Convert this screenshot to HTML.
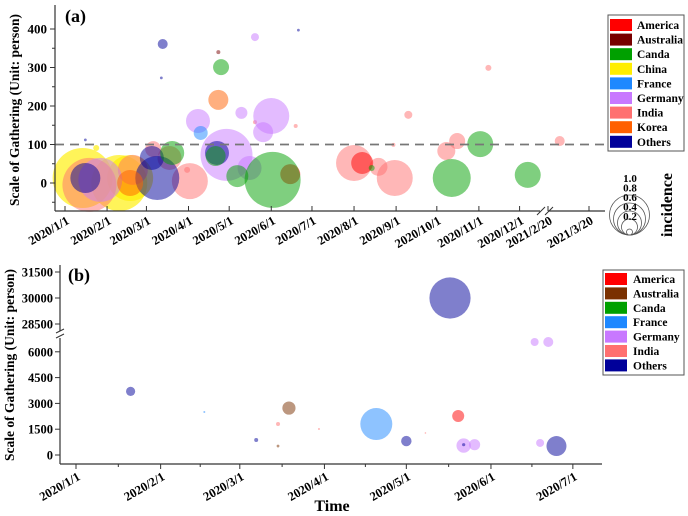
<!DOCTYPE html>
<html><head><meta charset="utf-8">
<style>
html,body{margin:0;padding:0;background:#fff;}
svg{display:block;font-family:"Liberation Serif",serif;font-weight:bold;}
</style></head>
<body>
<svg id="chart" width="688" height="516" viewBox="0 0 688 516" xmlns="http://www.w3.org/2000/svg">
<g id="pa"></g>
<g id="pb"></g>
</svg>
<script>
// ---------- Panel (a) data ----------
const aCountries = ["America","Australia","Canda","China","France","Germany","India","Korea","Others"];
const aColors = ["#ff0000","#780000","#00a000","#ffee00","#1e88ff","#c878ff","#ff7070","#ff6000","#00009a"];
const aDay   = [13,40,48,23, 18,50,65,77,90,92,140,170,213,231,243,242,253,281,289,312,424, 166,219, 26,98,119,136,130,140,146,152, 15,15,64,68,72,71,112,172, 79,111,115,127,153,226,285,306,341, 100, 48,113, 113];
const aValue = [13,0,13,91, -5,34,88,65,34,5,158,148,52,42,13,99,177,83,109,299,109, 23,52, 8,161,73,39,182,379,132,174, 13,112,65,13,361,273,78,397, 78,70,301,18,8,39,13,101,21, 130, 0,216, 340];
const aInc   = [1.5,1.4,1.15,0.15, 1.35,0.75,0.4,0.6,0.15,0.9,0.1,0.1,0.9,0.45,0.9,0.1,0.2,0.45,0.4,0.15,0.25, 0.5,0.55, 1.1,0.6,1.3,0.6,0.3,0.2,0.5,0.9, 0.75,0.07,0.6,1.1,0.25,0.07,0.6,0.07, 0.6,0.5,0.4,0.55,1.4,0.15,0.95,0.65,0.65, 0.35, 0.65,0.5, 0.1];
const aGroup = [3,3,3,3, 6,6,6,6,6,6,6,6,6,6,6,6,6,6,6,6,6, 0,0, 5,5,5,5,5,5,5,5, 8,8,8,8,8,8,8,8, 2,2,2,2,2,2,2,2,2, 4, 7,7, 1];
const aYTicks = [0,100,200,300,400];
const aXTickLabels = ["2020/1/1","2020/2/1","2020/3/1","2020/4/1","2020/5/1","2020/6/1","2020/7/1","2020/8/1","2020/9/1","2020/10/1","2020/11/1","2020/12/1","2021/2/20","2021/3/20"];
const aXTickDays = [0,31,60,91,121,152,182,213,244,274,305,335,416,444];
const incLegend = [1.0,0.8,0.6,0.4,0.2];

// ---------- Panel (b) data ----------
const bCountries = ["America","Australia","Canda","France","Germany","India","Others"];
const bColors = ["#ff0000","#7a3000","#00a000","#1e88ff","#c878ff","#ff7070","#00009a"];
const bDay   = [20,47,66,74,74,78,89,110,121,128,137,140,142,142,146,168,173,170,176];
const bValue = [3700,2500,870,1800,520,2730,1510,1800,810,1280,30000,2270,550,600,600,6570,6570,700,520];
const bInc   = [0.23,0.05,0.1,0.1,0.07,0.33,0.05,0.8,0.26,0.04,1.03,0.3,0.36,0.08,0.28,0.2,0.25,0.2,0.5];
const bGroup = [6,3,6,5,1,1,5,3,6,5,6,0,4,6,4,4,4,4,6];
const bYTicksLow = [0,1500,3000,4500,6000];
const bYTicksHigh = [28500,30000,31500];
const bXTickLabels = ["2020/1/1","2020/2/1","2020/3/1","2020/4/1","2020/5/1","2020/6/1","2020/7/1"];
const bXTickDays = [0,31,60,91,121,152,182];

const NS="http://www.w3.org/2000/svg";
function mk(parent,tag,attrs,text){const e=document.createElementNS(NS,tag);for(const k in attrs)e.setAttribute(k,attrs[k]);if(text!==undefined)e.textContent=text;parent.appendChild(e);return e;}

// ===== Panel A =====
const pa=document.getElementById('pa');
function axA(d){return d<=380?65+d*1.357:548+(d-416)*1.464;}
function ayA(v){return 183-v*0.385;}
function rA(i){return 20*i;}
for(let i=0;i<aDay.length;i++){
  const c=mk(pa,'circle',{cx:axA(aDay[i]),cy:ayA(aValue[i]),r:rA(aInc[i]),fill:aColors[aGroup[i]],'fill-opacity':aGroup[i]===3?0.65:0.5});
  
  
}
let dl=mk(pa,'line',{x1:55,x2:605,y1:ayA(100),y2:ayA(100),stroke:'#777','stroke-width':1.8,'stroke-dasharray':'9,6'});

let ya=mk(pa,'line',{x1:55,x2:55,y1:5,y2:211,stroke:'#333','stroke-width':1.2});

let xa1=mk(pa,'line',{x1:55,x2:540,y1:211,y2:211,stroke:'#333','stroke-width':1.2});

let xa2=mk(pa,'line',{x1:548,x2:605,y1:211,y2:211,stroke:'#333','stroke-width':1.2});

mk(pa,'path',{d:'M537 215 L545 207 M545 215 L553 207',stroke:'#333','stroke-width':1,fill:'none'});
for(const v of aYTicks){
  mk(pa,'line',{x1:50,x2:55,y1:ayA(v),y2:ayA(v),stroke:'#333'});
  const t=mk(pa,'text',{x:47,y:ayA(v)+4.5,'text-anchor':'end','font-size':13},v);
  
}
for(let v=-50;v<=400;v+=100){mk(pa,'line',{x1:52,x2:55,y1:ayA(v),y2:ayA(v),stroke:'#333'});}
for(let i=0;i<aXTickDays.length;i++){
  const x=axA(aXTickDays[i]);
  mk(pa,'line',{x1:x,x2:x,y1:211,y2:206,stroke:'#333'});
  const t=mk(pa,'text',{x:x+5,y:223,'text-anchor':'end','font-size':12.5,transform:`rotate(-30 ${x+5} 223)`},aXTickLabels[i]);
  
}
let ta=mk(pa,'text',{x:65,y:22,'font-size':18},'(a)');
let yta=mk(pa,'text',{x:19,y:110,'text-anchor':'middle','font-size':13.5,transform:'rotate(-90 19 110)'},'Scale of Gathering (Unit: person)');

let lga=mk(pa,'rect',{x:608,y:15,width:76,height:136,fill:'#fff',stroke:'#555','stroke-width':1});

for(let i=0;i<aCountries.length;i++){
  const y=19+i*14.6;
  const s=mk(pa,'rect',{x:610,y:y,width:22,height:12,fill:aColors[i]});
  
  const t=mk(pa,'text',{x:637,y:y+10,'font-size':11.5},aCountries[i]);
  
}
for(const v of incLegend){
  const r=20*v+(v===0.2?-1:0);
  mk(pa,'circle',{cx:629.5,cy:235-r,r:r,fill:'none',stroke:'#555','stroke-width':0.8});
}
incLegend.forEach((v,i)=>{const t=mk(pa,'text',{x:630,y:182+i*9.5,'text-anchor':'middle','font-size':11},v.toFixed(1));});
let inc=mk(pa,'text',{x:672,y:205,'text-anchor':'middle','font-size':16,transform:'rotate(-90 672 205)'},'incidence');


// ===== Panel B =====
const pb=document.getElementById('pb');
function axB(d){return 76+d*2.73;}
function ayB(v){return v<20000?455-v/1500*25.8:324-(v-28500)/1500*26;}
function rB(i){return 20*i;}
let yb=mk(pb,'path',{d:'M60 265 L60 331 M60 338 L60 464',stroke:'#333','stroke-width':1.2,fill:'none'});

mk(pb,'path',{d:'M56 333 L64 329 M56 338 L64 334',stroke:'#333','stroke-width':1,fill:'none'});
let xb=mk(pb,'line',{x1:60,x2:602,y1:464,y2:464,stroke:'#333','stroke-width':1.2});

for(const v of bYTicksLow.concat(bYTicksHigh)){
  mk(pb,'line',{x1:55,x2:60,y1:ayB(v),y2:ayB(v),stroke:'#333'});
  const t=mk(pb,'text',{x:53,y:ayB(v)+4.5,'text-anchor':'end','font-size':12.5},v);
  
}
for(let i=0;i<bXTickDays.length;i++){
  const x=axB(bXTickDays[i]);
  mk(pb,'line',{x1:x,x2:x,y1:464,y2:469,stroke:'#333'});
  if(i<bXTickDays.length-1){const xm=axB((bXTickDays[i]+bXTickDays[i+1])/2);mk(pb,'line',{x1:xm,x2:xm,y1:464,y2:467,stroke:'#333'});}
  const t=mk(pb,'text',{x:x+5,y:479,'text-anchor':'end','font-size':12.5,transform:`rotate(-30 ${x+5} 479)`},bXTickLabels[i]);
  
}
for(let i=0;i<bDay.length;i++){
  const c=mk(pb,'circle',{cx:axB(bDay[i]),cy:ayB(bValue[i]),r:rB(bInc[i]),fill:bColors[bGroup[i]],'fill-opacity':0.5});
  
  
}
let tb=mk(pb,'text',{x:68,y:281,'font-size':18},'(b)');
let ytb=mk(pb,'text',{x:14,y:365,'text-anchor':'middle','font-size':13.5,transform:'rotate(-90 14 365)'},'Scale of Gathering (Unit: person)');

let xtb=mk(pb,'text',{x:332,y:511,'text-anchor':'middle','font-size':16},'Time');

let lgb=mk(pb,'rect',{x:603,y:270,width:81,height:105,fill:'#fff',stroke:'#555','stroke-width':1});

for(let i=0;i<bCountries.length;i++){
  const y=273+i*14.4;
  const s=mk(pb,'rect',{x:605,y:y,width:22,height:12,fill:bColors[i]});
  
  const t=mk(pb,'text',{x:633,y:y+10,'font-size':11.5},bCountries[i]);
  
}
</script>
</body></html>
